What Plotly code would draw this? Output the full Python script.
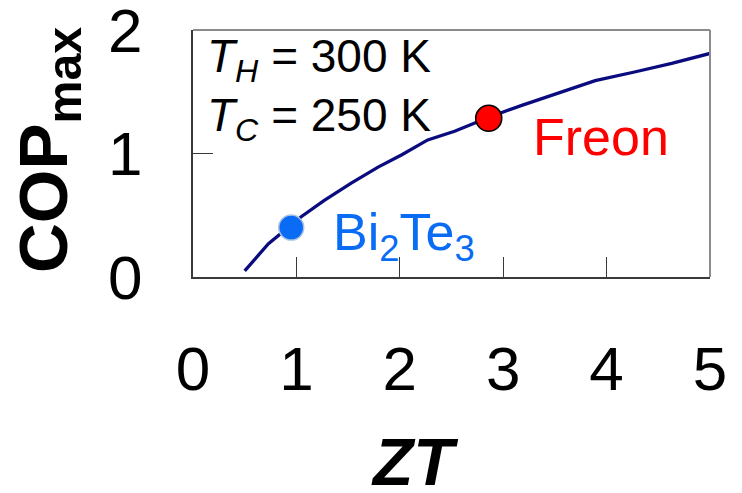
import plotly.graph_objects as go

# Curve
zt = [0.50, 0.73, 1.05, 1.27, 1.53, 1.79, 2.02, 2.27, 2.53, 2.85, 3.18, 3.57, 3.89, 4.27, 4.63, 5.00]
cop = [0.05, 0.27, 0.49, 0.62, 0.76, 0.89, 0.99, 1.11, 1.18, 1.29, 1.39, 1.50, 1.59, 1.66, 1.73, 1.81]

# Materials
bi_zt, bi_cop = [0.95], [0.40]
fr_zt, fr_cop = [2.86], [1.285]

x_ticks = [0, 1, 2, 3, 4, 5]
y_ticks = [0, 1, 2]

FONT = "Liberation Sans, Arial, Helvetica, sans-serif"
W, H = 742, 493
L, R, T, B = 193, 710, 30, 277


def px(x):
    return (x - L) / (R - L)


def py(y):
    return (B - y) / (B - T)


fig = go.Figure()
fig.add_trace(go.Scatter(x=zt, y=cop, mode="lines",
                         line=dict(color="#0b0b80", width=3.3),
                         hoverinfo="skip", showlegend=False))
fig.add_trace(go.Scatter(x=bi_zt, y=bi_cop, mode="markers",
                         marker=dict(color="#0a6cf5", size=25,
                                     line=dict(color="rgba(170,195,225,1)", width=1.5)),
                         showlegend=False))
fig.add_trace(go.Scatter(x=fr_zt, y=fr_cop, mode="markers",
                         marker=dict(color="#ff0000", size=26,
                                     line=dict(color="#000000", width=1.6)),
                         showlegend=False))

axis_common = dict(showgrid=False, zeroline=False, showline=True, automargin=False,
                   linecolor="#3a3a3a", linewidth=2, ticks="inside",
                   ticklen=20, tickcolor="#3a3a3a", tickwidth=1,
                   ticklabeloverflow="allow",
                   tickfont=dict(family=FONT, size=62, color="#000000"))

fig.update_layout(
    width=W, height=H,
    margin=dict(l=L, r=W - R, t=T, b=H - B, autoexpand=False),
    paper_bgcolor="white", plot_bgcolor="white",
    xaxis=dict(range=[0, 5], tickvals=x_ticks, ticktext=[str(v) for v in x_ticks],
               ticklabelstandoff=37, **axis_common),
    yaxis=dict(range=[0, 2], tickvals=y_ticks, ticktext=[str(v) for v in y_ticks],
               ticklabelstandoff=36, **axis_common),
    shapes=[
        dict(type="line", xref="paper", yref="paper", x0=0, x1=1, y0=1, y1=1,
             line=dict(color="#8c8c8c", width=2)),
        dict(type="line", xref="paper", yref="paper", x0=1, x1=1, y0=0, y1=1,
             line=dict(color="#8c8c8c", width=2)),
    ],
    annotations=[
        dict(text="<b><i>ZT</i></b>", xref="paper", yref="paper",
             x=px(414), y=py(462), xanchor="center", yanchor="middle",
             showarrow=False, font=dict(family=FONT, size=66, color="#000000")),
        dict(text="<b>COP<sub>max</sub></b>", xref="paper", yref="paper",
             x=px(48), y=py(150), xanchor="center", yanchor="middle", textangle=-90,
             showarrow=False, font=dict(family=FONT, size=69, color="#000000")),
        dict(text="<i>T</i><sub><i>H</i></sub> = 300 K", xref="paper", yref="paper",
             x=px(205), y=py(59), xanchor="left", yanchor="middle",
             showarrow=False, font=dict(family=FONT, size=46, color="#000000")),
        dict(text="<i>T</i><sub><i>C</i></sub> = 250 K", xref="paper", yref="paper",
             x=px(205), y=py(118), xanchor="left", yanchor="middle",
             showarrow=False, font=dict(family=FONT, size=46, color="#000000")),
        dict(text="Bi<sub>2</sub>Te<sub>3</sub>", xref="paper", yref="paper",
             x=px(331), y=py(236), xanchor="left", yanchor="middle",
             showarrow=False, font=dict(family=FONT, size=52, color="#0a6cf5")),
        dict(text="Freon", xref="paper", yref="paper",
             x=px(531), y=py(137), xanchor="left", yanchor="middle",
             showarrow=False, font=dict(family=FONT, size=52, color="#ff0000")),
    ],
)

fig.write_html("out.html", config={"displayModeBar": False},
               post_script="document.body.style.margin='0';document.body.style.overflow='hidden';")
